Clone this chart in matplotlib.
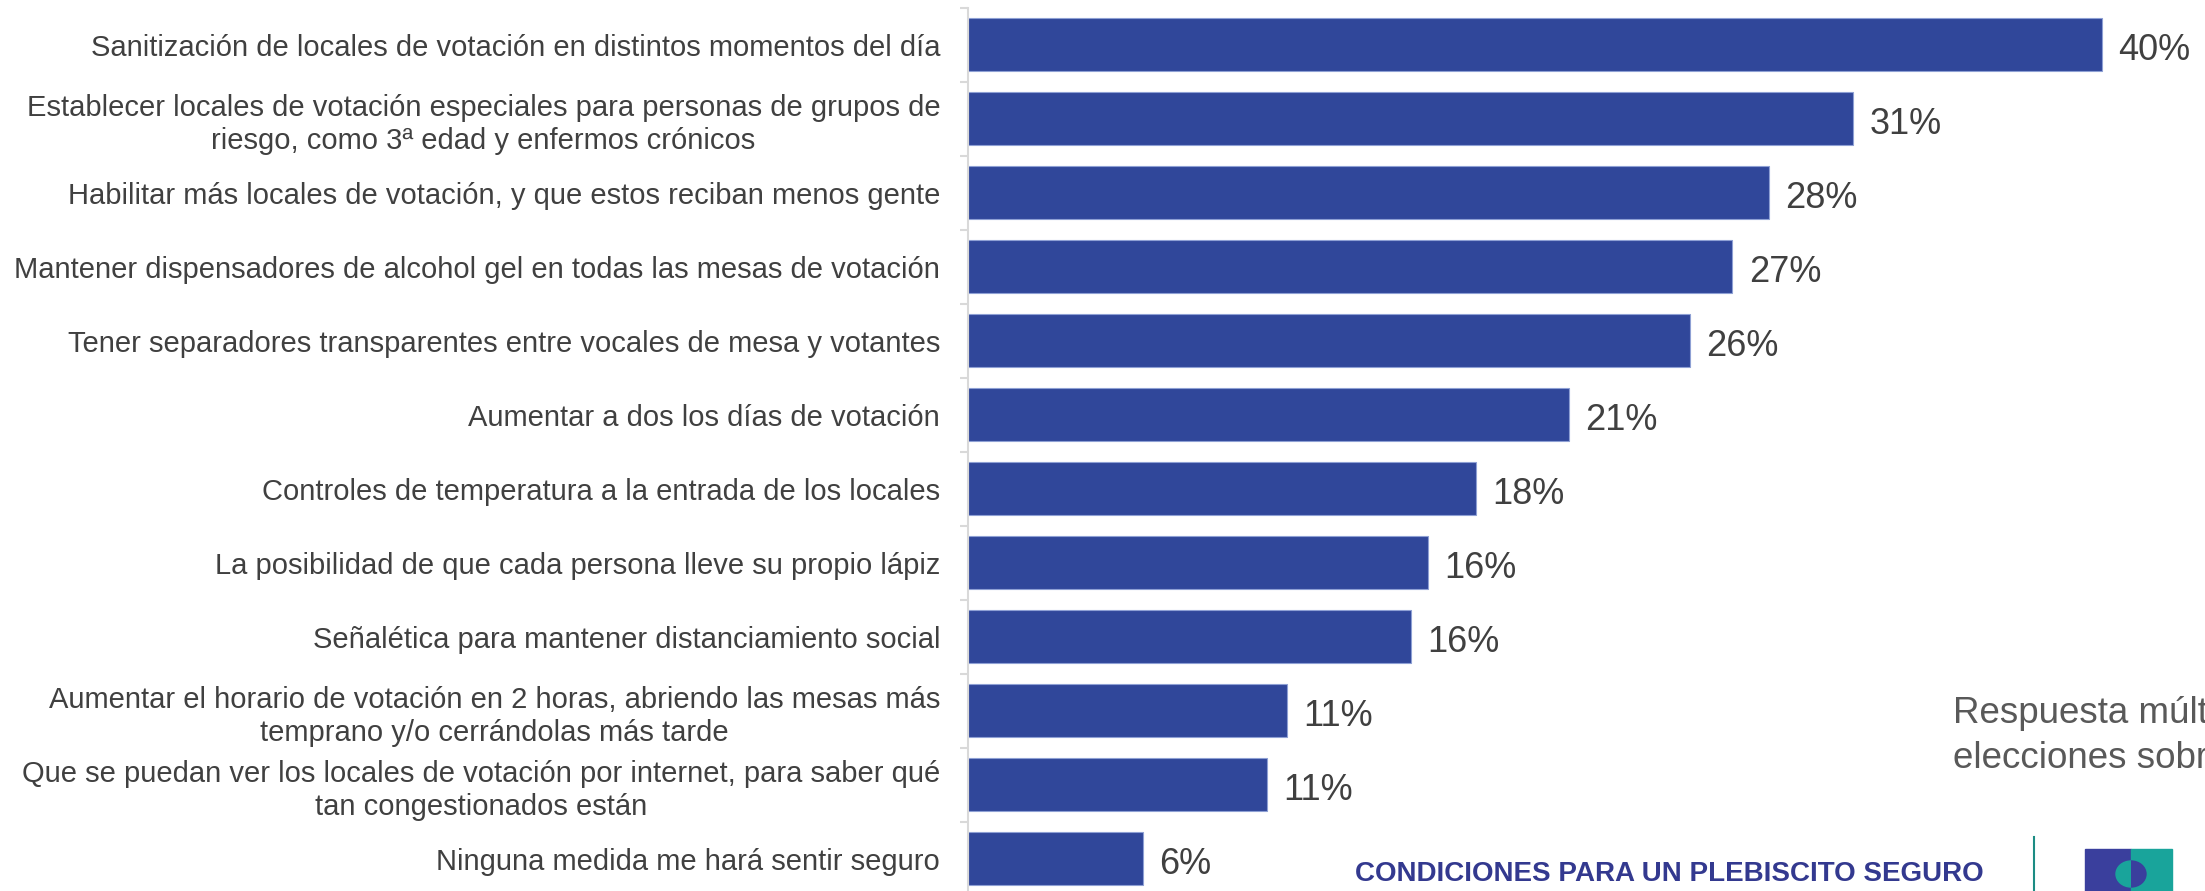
import matplotlib
matplotlib.use('Agg')
import matplotlib.pyplot as plt
from matplotlib.patches import Rectangle, Ellipse

plt.rcParams['font.family'] = ['Liberation Sans', 'DejaVu Sans']

categories = [
    "Sanitización de locales de votación en distintos momentos del día",
    "Establecer locales de votación especiales para personas de grupos de\nriesgo, como 3ª edad y enfermos crónicos",
    "Habilitar más locales de votación, y que estos reciban menos gente",
    "Mantener dispensadores de alcohol gel en todas las mesas de votación",
    "Tener separadores transparentes entre vocales de mesa y votantes",
    "Aumentar a dos los días de votación",
    "Controles de temperatura a la entrada de los locales",
    "La posibilidad de que cada persona lleve su propio lápiz",
    "Señalética para mantener distanciamiento social",
    "Aumentar el horario de votación en 2 horas, abriendo las mesas más\ntemprano y/o cerrándolas más tarde",
    "Que se puedan ver los locales de votación por internet, para saber qué\ntan congestionados están",
    "Ninguna medida me hará sentir seguro",
]
values = [40.2, 31.4, 28.4, 27.1, 25.6, 21.3, 18.0, 16.3, 15.7, 11.3, 10.6, 6.2]

note_lines = ["Respuesta múlt", "elecciones sobr"]
footer = "CONDICIONES PARA UN PLEBISCITO SEGURO"

W, H = 2205, 891
fig = plt.figure(figsize=(W / 100, H / 100), dpi=100)

# main bar chart
ax = fig.add_axes([968 / W, 1 - 895.5 / H, (W - 968) / W, 888 / H])
pos = list(range(len(categories)))
ax.barh(pos, values, height=0.72, color='#30479A', edgecolor='#8EA0D4', linewidth=0.8)
ax.set_ylim(len(categories) - 0.5, -0.5)
ax.set_xlim(0, (W - 968) / 28.2)

ax.set_yticks(pos)
ax.set_yticklabels(categories, fontsize=21, color='#404040', multialignment='center', linespacing=1.25)
ax.set_yticks([p - 0.5 for p in pos] + [len(categories) - 0.5], minor=True)
ax.tick_params(axis='y', which='major', length=0, pad=20)
ax.tick_params(axis='y', which='minor', length=6, width=1.5, color='#d9d9d9', direction='out')
ax.xaxis.set_visible(False)
for s in ['top', 'right', 'bottom']:
    ax.spines[s].set_visible(False)
ax.spines['left'].set_color('#d9d9d9')
ax.spines['left'].set_linewidth(1.5)

for i, v in enumerate(values):
    ax.annotate(f"{round(v)}%", xy=(v, i), xytext=(12, -4), textcoords='offset points',
                va='center', ha='left', fontsize=26, color='#404040')

# note + footer overlay (pixel coordinates)
ov = fig.add_axes([0, 0, 1, 1])
ov.set_xlim(0, W)
ov.set_ylim(H, 0)
ov.axis('off')
ov.text(1953, 723, note_lines[0], fontsize=26.5, color='#595959', va='baseline')
ov.text(1953, 768, note_lines[1], fontsize=26.5, color='#595959', va='baseline')
ov.text(1355, 881, footer, fontweight='bold', fontsize=20, color='#33398F', va='baseline')
ov.plot([2034, 2034], [837, 891], color='#1C8C84', lw=1.5)

# small logo
ov.add_patch(Rectangle((2085, 849), 46, 42, color='#3A3F9D'))
ov.add_patch(Rectangle((2131, 849), 41, 42, color='#19A49B'))
left_half = Rectangle((2085, 849), 46, 42, transform=ov.transData)
right_half = Rectangle((2131, 849), 41, 42, transform=ov.transData)
e1 = Ellipse((2131, 874), 30, 26, color='#19A49B')
e2 = Ellipse((2131, 874), 30, 26, color='#3A3F9D')
ov.add_patch(e1)
ov.add_patch(e2)
e1.set_clip_path(left_half)
e2.set_clip_path(right_half)

fig.savefig('out.png', dpi=100, facecolor='white')
